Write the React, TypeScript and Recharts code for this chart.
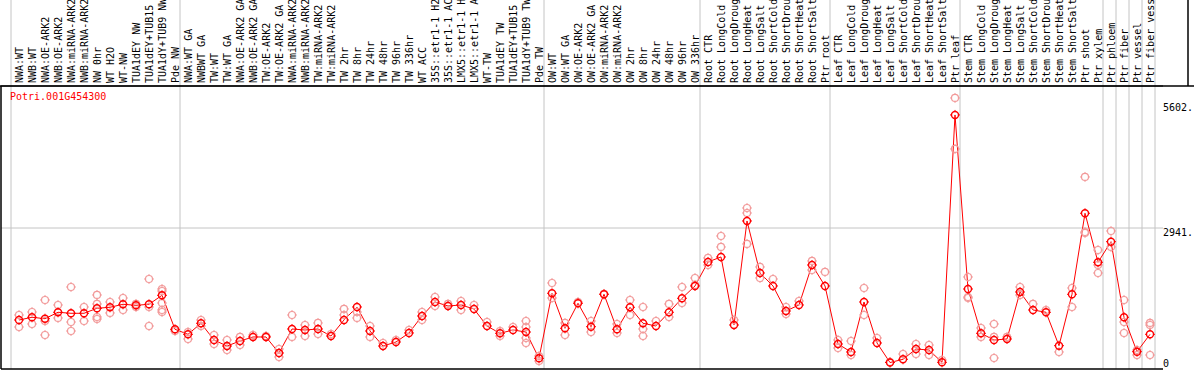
import React from "react";
import {
  ComposedChart,
  Line,
  Scatter,
  XAxis,
  YAxis,
  ReferenceLine,
} from "recharts";

const CATEGORIES = [
  "NWA:WT", "NWB:WT", "NWA:OE-ARK2", "NWB:OE-ARK2", "NWA:miRNA-ARK2", "NWB:miRNA-ARK2",
  "NW 0hr", "WT H2O", "WT-NW", "TUA1dEY NW", "TUA1dEY+TUB15", "TUA1dY+TUB9 NW", "Pde NW",
  "NWA:WT GA", "NWBWT GA", "TW:WT", "TW:WT GA", "NWA:OE-ARK2 GA", "NWB:OE-ARK2 GA",
  "TW:OE-ARK2", "TW:OE-ARK2 GA", "NWA:miRNA-ARK2", "NWB:miRNA-ARK2", "TW:miRNA-ARK2",
  "TW:miRNA-ARK2", "TW 2hr", "TW 8hr", "TW 24hr", "TW 48hr", "TW 96hr", "TW 336hr",
  "WT ACC", "35S::etr1-1 H2", "35S::etr1-1 AC", "LMX5::etr1-1 H", "LMX5::etr1-1 A",
  "WT-TW", "TUA1dEY TW", "TUA1dEY+TUB15", "TUA1dY+TUB9 TW", "Pde TW",
  "OW:WT", "OW:WT GA", "OW:OE-ARK2", "OW:OE-ARK2 GA", "OW:miRNA-ARK2", "OW:miRNA-ARK2",
  "OW 2hr", "OW 8hr", "OW 24hr", "OW 48hr", "OW 96hr", "OW 336hr",
  "Root CTR", "Root LongCold", "Root LongDroug", "Root LongHeat", "Root LongSalt",
  "Root ShortCold", "Root ShortDrou", "Root ShortHeat", "Root ShortSalt", "Ptr root",
  "Leaf CTR", "Leaf LongCold", "Leaf LongDroug", "Leaf LongHeat", "Leaf LongSalt",
  "Leaf ShortCold", "Leaf ShortDrou", "Leaf ShortHeat", "Leaf ShortSalt", "Ptr leaf",
  "Stem CTR", "Stem LongCold", "Stem LongDroug", "Stem LongHeat", "Stem LongSalt",
  "Stem ShortCold", "Stem ShortDrou", "Stem ShortHeat", "Stem ShortSalt",
  "Ptr shoot", "Ptr xylem", "Ptr phloem", "Ptr fiber", "Ptr vessel", "Ptr fiber vess",
];

const MEANS = [
  937, 996, 965, 1105, 1083, 1083, 1192, 1214, 1279, 1257, 1279, 1475, 734,
  625, 865, 501, 370, 479, 567, 567, 218, 741, 719, 741, 588, 937, 1220, 697, 370, 458, 654,
  1024, 1329, 1242, 1264, 1177, 806, 647, 719, 675, 102,
  1519, 756, 1301, 791, 1497, 734, 1214, 865, 806, 1105, 1410, 1678,
  2201, 2310, 828, 3094, 1961, 1678, 1133, 1264, 2135, 1678,
  414, 240, 1329, 436, 10, 81, 305, 283, 15, 5404,
  1612, 647, 501, 523, 1547, 1155, 1105, 377, 1497,
  3262, 2194, 2643, 996, 246, 625,
];

const REPLICATES = [
  [1046, 784], [1111, 850], [1373, 915, 610], [1264, 981], [1656, 893, 697], [1220, 915],
  [1482, 1286, 1002, 959], [1329, 1090], [1416, 1155], [1286, 1220], [1830, 1220, 806],
  [1612, 1569, 1307, 1155, 1111], [697],
  [675, 523], [937, 806], [610, 414], [501, 283], [567, 392], [610], [588], [305, 131],
  [1046, 567], [828, 588], [872, 632], [632], [1177, 1046], [1111, 981], [806, 567], [436],
  [501], [719], [1111, 937], [1438, 1242], [1286], [1351, 1155], [1264], [893], [697, 588],
  [784], [915, 784, 545, 436], [153, 44],
  [1743, 1416], [872, 610], [1329], [915, 675], [1504], [850, 654], [1373, 1046],
  [1220, 741, 588], [915], [1286, 1002], [1656, 1307], [1852, 1700],
  [2288, 2135], [2767, 2528], [937], [3377, 3268, 2593], [2092, 1852], [1830], [1220, 1068],
  [1351], [2223, 2026], [1983],
  [501, 327], [479, 174], [1634, 1046], [545], [22], [196], [414, 196], [392, 174], [65],
  [5774, 4663],
  [1874, 1438, 1416], [763, 567], [850, 567, 109], [567], [1656, 1482], [1286], [1155], [240],
  [1634, 1220],
  [4053, 2854, 2833], [2462, 2135, 1961], [2876, 2528], [1373, 893, 654], [283, 174],
  [872, 828, 174],
];

const GROUP_STARTS = [0, 13, 41, 53, 63, 73, 84, 85, 86, 87, 88];
const Y_TICKS = [0, 2941, 5602];
const Y_TICK_LABELS = ["0", "2941.", "5602."];
const GENE = "Potri.001G454300";

// layout
const W = 1194;
const H = 370;
const PLOT_LEFT = 1;
const PLOT_RIGHT = 1163;
const FRAME_RIGHT = 1188;
const PLOT_TOP = 86;
const PLOT_BOTTOM = 369;
const CAT_PX = 13;
const FIRST_X = 19;
const BOUNDARY_OFFSET = 8 / 13;
const Y_ZERO_PX = 363;
const PX_PER_UNIT = 135 / 2941;
const LABEL_BASE = 83;
const Y_TICK_DY = [0, 4, 2];

const xLo = -(FIRST_X - PLOT_LEFT) / CAT_PX;
const xHi = xLo + (PLOT_RIGHT - PLOT_LEFT) / CAT_PX;
const xFrame = xLo + (FRAME_RIGHT - PLOT_LEFT) / CAT_PX;
const yLo = -(PLOT_BOTTOM - Y_ZERO_PX) / PX_PER_UNIT;
const yHi = yLo + (PLOT_BOTTOM - PLOT_TOP) / PX_PER_UNIT;

const RED = "#ff0000";
const PINK = "#f29a9a";
const GRAY = "#c4c4c4";
const FONT = "'DejaVu Sans Mono', monospace";

const lineData = MEANS.map((m, i) => ({ x: i, mean: m }));
const repData = REPLICATES.flatMap((reps, i) => reps.map((r) => ({ x: i, rep: r })));

const Ring = ({ cx, cy, color, width }: any) => {
  if (cx == null || cy == null || isNaN(cx) || isNaN(cy)) return null;
  const r = 3.5;
  const t = 1.5;
  return (
    <g>
      <circle cx={cx} cy={cy} r={r} fill="none" stroke={color} strokeWidth={width} />
      <line x1={cx} y1={cy - r - t} x2={cx} y2={cy - r + 0.5} stroke={color} strokeWidth={1} />
      <line x1={cx} y1={cy + r - 0.5} x2={cx} y2={cy + r + t} stroke={color} strokeWidth={1} />
      <line x1={cx - r - t} y1={cy} x2={cx - r + 0.5} y2={cy} stroke={color} strokeWidth={1} />
      <line x1={cx + r - 0.5} y1={cy} x2={cx + r + t} y2={cy} stroke={color} strokeWidth={1} />
    </g>
  );
};

const MainDot = (p: any) => <Ring key={`m${p.index}`} cx={p.cx} cy={p.cy} color={RED} width={1.4} />;
const RepDot = (p: any) => <Ring cx={p.cx} cy={p.cy} color={PINK} width={1.2} />;

const CatTick = (p: any) => {
  const { x, payload } = p;
  const label = CATEGORIES[payload.value];
  if (label == null) return null;
  return (
    <text
      transform={`translate(${x},${LABEL_BASE}) rotate(-90)`}
      textAnchor="start"
      dy="0.35em"
      fontSize={10}
      fontFamily={FONT}
      fill="#000"
    >
      {label}
    </text>
  );
};

const ValTick = (p: any) => {
  const { x, y, payload } = p;
  const i = Y_TICKS.indexOf(payload.value);
  return (
    <text
      x={x}
      y={y + (Y_TICK_DY[i] ?? 0)}
      dy="0.35em"
      textAnchor="start"
      fontSize={10}
      fontFamily={FONT}
      fill="#000"
    >
      {Y_TICK_LABELS[i] ?? ""}
    </text>
  );
};

const FullLine = (p: any) => (
  <line x1={p.x1} y1={0} x2={p.x2} y2={p.y2} stroke={GRAY} strokeWidth={1} />
);

const FrameRight = (p: any) => (
  <g>
    <line x1={p.x1} y1={0} x2={p.x1} y2={PLOT_TOP} stroke="#000" strokeWidth={1.5} />
    <line x1={0} y1={PLOT_TOP} x2={W} y2={PLOT_TOP} stroke="#000" strokeWidth={1.5} />
  </g>
);

export default function App() {
  return (
    <div style={{ position: "relative", width: W, height: H, background: "#fff" }}>
      <style>{`body{margin:0;background:#fff}`}</style>
      <ComposedChart
        width={W}
        height={H}
        data={lineData}
        margin={{ top: 0, right: 0, bottom: H - PLOT_BOTTOM, left: PLOT_LEFT }}
      >
        <XAxis
          type="number"
          dataKey="x"
          orientation="top"
          height={PLOT_TOP}
          domain={[xLo, xHi]}
          allowDataOverflow
          ticks={CATEGORIES.map((_, i) => i)}
          interval={0}
          tick={<CatTick />}
          tickLine={false}
          axisLine={{ stroke: "#000", strokeWidth: 1 }}
        />
        <YAxis
          type="number"
          orientation="right"
          width={W - PLOT_RIGHT}
          domain={[yLo, yHi]}
          allowDataOverflow
          ticks={Y_TICKS}
          interval={0}
          tick={<ValTick />}
          tickLine={false}
          tickSize={0}
          tickMargin={0}
          axisLine={false}
        />
        {GROUP_STARTS.map((k) => (
          <ReferenceLine
            key={`g${k}`}
            x={k - BOUNDARY_OFFSET}
            stroke={GRAY}
            shape={<FullLine />}
          />
        ))}
        <ReferenceLine x={xFrame} ifOverflow="visible" stroke="#000" shape={<FrameRight />} />
        <ReferenceLine y={Y_TICKS[1]} stroke={GRAY} strokeWidth={1} />
        <ReferenceLine x={xLo} stroke="#000" strokeWidth={1.5} />
        <ReferenceLine y={yLo} stroke="#000" strokeWidth={1.5} />
        <Scatter
          data={repData}
          dataKey="rep"
          shape={<RepDot />}
          isAnimationActive={false}
        />
        <Line
          type="linear"
          dataKey="mean"
          stroke={RED}
          strokeWidth={1}
          dot={<MainDot />}
          activeDot={false}
          isAnimationActive={false}
        />
      </ComposedChart>
      <div
        style={{
          position: "absolute",
          left: 10,
          top: 92,
          fontFamily: FONT,
          fontSize: 10,
          lineHeight: "10px",
          color: RED,
          whiteSpace: "nowrap",
        }}
      >
        {GENE}
      </div>
    </div>
  );
}
